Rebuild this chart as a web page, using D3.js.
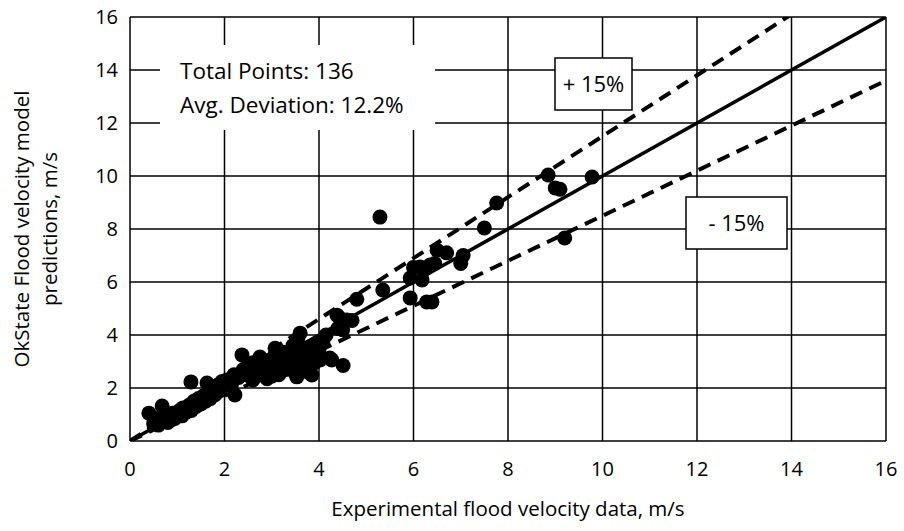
<!DOCTYPE html>
<html>
<head>
<meta charset="utf-8">
<script src="https://cdn.jsdelivr.net/npm/d3@7"></script>
<style>
  body { margin: 0; background: #fff; }
  text { font-family: "Open Sans", sans-serif; fill: #000; }
</style>
</head>
<body>
<script>
// experimental velocity (x) and model prediction (y), m/s
const expData = [
    0.40, 0.50, 0.55, 0.60, 0.65, 0.68, 0.70, 0.75, 0.80, 0.85,
    0.90, 0.95, 1.00, 1.05, 1.10, 1.15, 1.20, 1.25, 1.29, 1.30,
    1.35, 1.40, 1.45, 1.50, 1.55, 1.60, 1.63, 1.65, 1.70, 1.75,
    1.80, 1.85, 1.90, 1.95, 2.00, 2.05, 2.12, 2.22, 2.20, 2.30,
    2.37, 2.40, 2.45, 2.50, 2.55, 2.60, 2.65, 2.70, 2.75, 2.80,
    2.85, 2.90, 2.95, 3.00, 3.05, 3.07, 3.10, 3.15, 3.20, 3.25,
    3.30, 3.32, 3.35, 3.40, 3.45, 3.50, 3.53, 3.55, 3.60, 3.60,
    3.65, 3.70, 3.75, 3.77, 3.80, 3.85, 3.87, 3.90, 3.95, 4.02,
    4.08, 4.00, 3.50, 2.60, 3.00, 3.20, 4.23, 4.27, 4.38, 4.40,
    4.44, 4.51, 4.59, 4.70, 4.80, 4.50, 5.29, 5.35, 4.15, 5.93,
    5.93, 6.00, 6.14, 6.18, 6.35, 6.39, 6.28, 6.50, 6.70, 7.05,
    7.00, 6.45, 6.25, 7.50, 7.76, 8.85, 9.00, 9.10, 9.78, 9.20,
    0.58, 0.88, 1.12, 1.38, 1.58, 1.82, 2.15, 2.35, 2.72, 2.92,
    3.12, 3.28, 3.42, 3.62, 3.72, 3.92
];
const predData = [
    1.05, 0.65, 0.80, 0.60, 0.90, 1.32, 0.75, 0.95, 0.70, 0.90,
    1.05, 0.85, 1.00, 1.15, 0.95, 1.20, 1.10, 1.35, 2.23, 1.15,
    1.50, 1.30, 1.60, 1.40, 1.70, 1.50, 2.19, 1.80, 1.60, 1.95,
    1.75, 2.10, 1.90, 2.25, 2.10, 2.30, 2.30, 1.74, 2.50, 2.40,
    3.25, 2.70, 2.50, 2.85, 2.60, 2.95, 2.45, 2.75, 3.17, 2.55,
    2.90, 2.35, 3.05, 2.70, 3.20, 3.50, 2.85, 2.50, 3.00, 3.35,
    2.70, 3.32, 3.05, 2.85, 3.60, 3.20, 2.42, 3.85, 4.07, 2.95,
    3.40, 2.70, 3.10, 2.60, 3.55, 2.49, 3.32, 2.95, 3.70, 3.06,
    3.74, 3.45, 2.55, 2.30, 2.45, 2.65, 3.13, 3.06, 4.75, 4.25,
    4.64, 2.85, 4.57, 4.55, 5.35, 4.20, 8.45, 5.70, 4.00, 6.15,
    5.40, 6.55, 6.57, 6.08, 6.64, 5.25, 5.25, 7.20, 7.10, 7.00,
    6.70, 6.70, 6.50, 8.04, 8.98, 10.04, 9.55, 9.50, 9.96, 7.66,
    0.70, 0.80, 1.25, 1.45, 1.62, 1.95, 2.15, 2.55, 2.95, 2.75,
    3.10, 2.95, 3.10, 3.20, 3.45, 3.25
];
const axisTicks = [0, 2, 4, 6, 8, 10, 12, 14, 16];
// perfect agreement line and the +/- 15% bands
const lineFactors = [1, 1.15, 0.85];
const statLines = ["Total Points: 136", "Avg. Deviation: 12.2%"];

const width = 904;
const height = 531;
const margin = {top: 17, right: 18, bottom: 90, left: 130};
const w = width - margin.left - margin.right;
const h = height - margin.top - margin.bottom;

const svg = d3.select("body").append("svg")
    .attr("width", width)
    .attr("height", height);
const g = svg.append("g")
    .attr("transform", `translate(${margin.left}, ${margin.top})`);

const xscale = d3.scaleLinear().domain([0, 16]).range([0, w]);
const yscale = d3.scaleLinear().domain([0, 16]).range([h, 0]);

// grid
g.selectAll(".vgrid").data(axisTicks).enter().append("line")
    .attr("x1", d => xscale(d)).attr("x2", d => xscale(d))
    .attr("y1", 0).attr("y2", h)
    .attr("stroke", "#000").attr("stroke-width", 1.5);
g.selectAll(".hgrid").data(axisTicks).enter().append("line")
    .attr("y1", d => yscale(d)).attr("y2", d => yscale(d))
    .attr("x1", 0).attr("x2", w)
    .attr("stroke", "#000").attr("stroke-width", 1.5);

// tick labels
g.selectAll(".xlab").data(axisTicks).enter().append("text")
    .attr("x", d => xscale(d)).attr("y", h + 35)
    .attr("text-anchor", "middle")
    .style("font-size", "20px")
    .text(d => d);
g.selectAll(".ylab").data(axisTicks).enter().append("text")
    .attr("x", -12).attr("y", d => yscale(d) + 7)
    .attr("text-anchor", "end")
    .style("font-size", "20px")
    .text(d => d);

// stats box (white, no border)
g.append("rect")
    .attr("x", 30).attr("y", 28).attr("width", 275).attr("height", 85)
    .attr("fill", "#fff");
g.selectAll(".stat").data(statLines).enter().append("text")
    .attr("x", 50).attr("y", (d, i) => 62 + i * 34)
    .style("font-size", "22.5px")
    .text(d => d);

// reference lines
g.append("clipPath").attr("id", "clip")
    .append("rect").attr("width", w).attr("height", h);
const line = d3.line().x(d => xscale(d[0])).y(d => yscale(d[1]));
g.selectAll(".ref").data(lineFactors).enter().append("path")
    .attr("clip-path", "url(#clip)")
    .attr("d", f => line([[0, 0], [16, 16 * f]]))
    .attr("fill", "none")
    .attr("stroke", "#000")
    .attr("stroke-width", f => f === 1 ? 3.5 : 4)
    .attr("stroke-dasharray", f => f === 1 ? null : "13,8");

// points
g.selectAll("circle").data(expData).enter().append("circle")
    .attr("cx", d => xscale(d))
    .attr("cy", (d, i) => yscale(predData[i]))
    .attr("r", 7.5)
    .attr("fill", "#000");

// +/- 15% labels
const boxes = [
    {label: "+ 15%", x: 425, y: 41, bw: 77, bh: 52},
    {label: "- 15%", x: 556, y: 180, bw: 101, bh: 52}
];
boxes.forEach(b => {
    g.append("rect")
        .attr("x", b.x).attr("y", b.y).attr("width", b.bw).attr("height", b.bh)
        .attr("fill", "#fff").attr("stroke", "#000").attr("stroke-width", 1.5);
    g.append("text")
        .attr("x", b.x + b.bw / 2).attr("y", b.y + b.bh / 2 + 8)
        .attr("text-anchor", "middle")
        .style("font-size", "22px")
        .text(b.label);
});

// axis titles
svg.append("text")
    .attr("x", margin.left + w / 2).attr("y", 516)
    .attr("text-anchor", "middle")
    .style("font-size", "20.5px")
    .text("Experimental flood velocity data, m/s");
const yt = svg.append("text")
    .attr("transform", `translate(0, ${margin.top + h / 2}) rotate(-90)`)
    .attr("text-anchor", "middle")
    .style("font-size", "20.5px");
yt.append("tspan").attr("x", 0).attr("y", 29).text("OkState Flood velocity model");
yt.append("tspan").attr("x", 0).attr("y", 57).text("predictions, m/s");
</script>
</body>
</html>
